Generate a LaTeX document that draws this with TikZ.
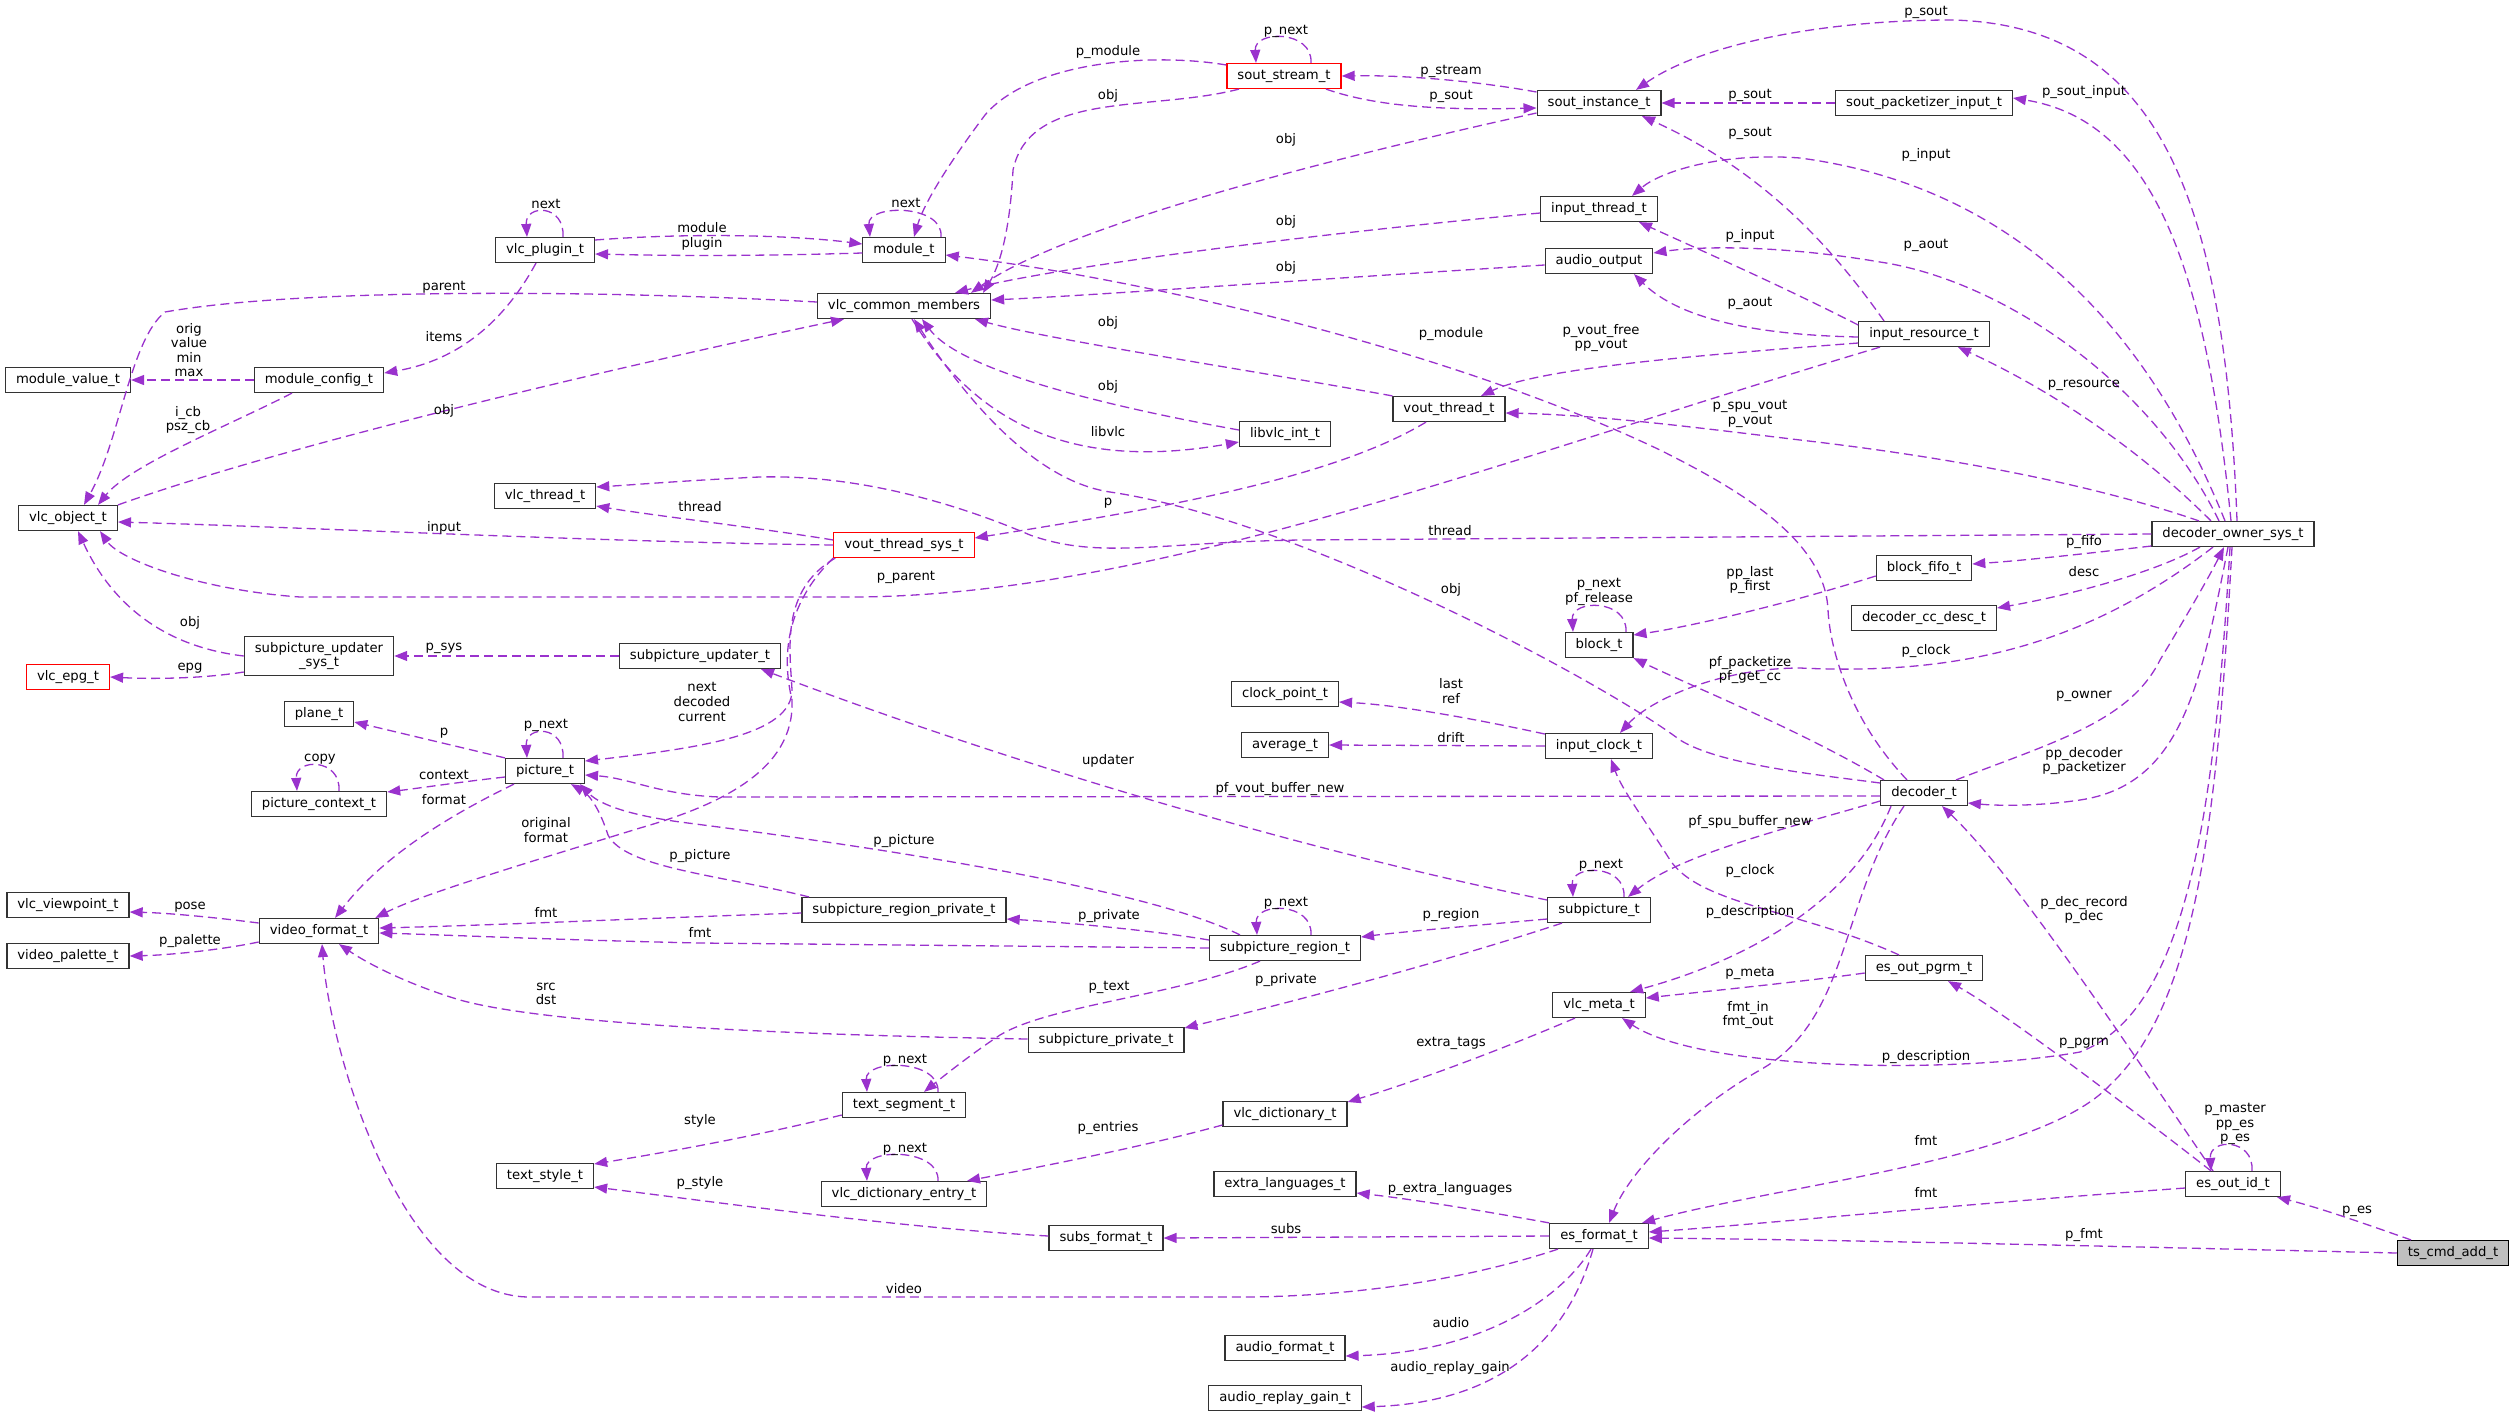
\documentclass[tikz,border=0pt]{standalone}
\usepackage{fontspec}
\setmainfont{DejaVu Sans}
\usetikzlibrary{arrows.meta}
\definecolor{orchid}{HTML}{9A32CD}
\definecolor{grey75}{HTML}{BFBFBF}

\begin{document}
\begin{tikzpicture}[x=1pt, y=-1pt,
  font=\fontsize{13.2}{14.6}\selectfont,
  box/.style={draw=black!80, line width=1.2pt, fill=white, inner xsep=10.5pt, inner ysep=3pt, minimum height=25pt},
  cls/.style={box, text height=9.5pt, text depth=3pt},
  trunc/.style={cls, draw=red},
  link/.style={draw=orchid, line width=1.3pt, dash pattern=on 9pt off 5pt, -{Triangle[length=13pt,width=10pt]}},
  lbl/.style={inner sep=0pt, align=center}]

  \useasboundingbox (0,0) rectangle (2515,1417);

  % Classes
  \node[cls] (plugin) at (545,250) {vlc\_plugin\_t};
  \node[cls] (modval) at (68,380) {module\_value\_t};
  \node[cls] (modcfg) at (319,380) {module\_config\_t};
  \node[cls] (module) at (904,250) {module\_t};
  \node[cls] (vcm) at (904,306) {vlc\_common\_members};
  \node[trunc] (sstream) at (1284,76) {sout\_stream\_t};
  \node[cls] (sinst) at (1599,103) {sout\_instance\_t};
  \node[cls] (spkt) at (1924,103) {sout\_packetizer\_input\_t};
  \node[cls] (ithread) at (1599,209) {input\_thread\_t};
  \node[cls] (aout) at (1599,261) {audio\_output};
  \node[cls] (ires) at (1924,334) {input\_resource\_t};
  \node[cls] (vthread) at (1449,409) {vout\_thread\_t};
  \node[cls] (libvlc) at (1285,434) {libvlc\_int\_t};
  \node[cls] (vobj) at (68,518) {vlc\_object\_t};
  \node[cls] (vlthread) at (545,496) {vlc\_thread\_t};
  \node[trunc] (vtsys) at (904,545) {vout\_thread\_sys\_t};
  \node[box, align=center, inner ysep=6pt] (supsys) at (319,656) {subpicture\_updater\\\_sys\_t};
  \node[trunc] (epg) at (68,677) {vlc\_epg\_t};
  \node[cls] (supdt) at (700,656) {subpicture\_updater\_t};
  \node[cls] (plane) at (319,714) {plane\_t};
  \node[cls] (pic) at (545,771) {picture\_t};
  \node[cls] (picctx) at (319,804) {picture\_context\_t};
  \node[cls] (viewpt) at (68,905) {vlc\_viewpoint\_t};
  \node[cls] (vfmt) at (319,931) {video\_format\_t};
  \node[cls] (palette) at (68,956) {video\_palette\_t};
  \node[cls] (srpriv) at (904,910) {subpicture\_region\_private\_t};
  \node[cls] (sregion) at (1285,948) {subpicture\_region\_t};
  \node[cls] (subpic) at (1599,910) {subpicture\_t};
  \node[cls] (meta) at (1599,1005) {vlc\_meta\_t};
  \node[cls] (pgrm) at (1924,968) {es\_out\_pgrm\_t};
  \node[cls] (spriv) at (1106,1040) {subpicture\_private\_t};
  \node[cls] (tseg) at (904,1105) {text\_segment\_t};
  \node[cls] (dict) at (1285,1114) {vlc\_dictionary\_t};
  \node[cls] (tstyle) at (545,1176) {text\_style\_t};
  \node[cls] (dentry) at (904,1194) {vlc\_dictionary\_entry\_t};
  \node[cls] (xlang) at (1285,1184) {extra\_languages\_t};
  \node[cls] (subsfmt) at (1106,1238) {subs\_format\_t};
  \node[cls] (esfmt) at (1599,1236) {es\_format\_t};
  \node[cls] (afmt) at (1285,1348) {audio\_format\_t};
  \node[cls] (rgain) at (1285,1398) {audio\_replay\_gain\_t};
  \node[cls] (dos) at (2233,534) {decoder\_owner\_sys\_t};
  \node[cls] (bfifo) at (1924,568) {block\_fifo\_t};
  \node[cls] (ccdesc) at (1924,618) {decoder\_cc\_desc\_t};
  \node[cls] (block) at (1599,645) {block\_t};
  \node[cls] (clkpt) at (1285,694) {clock\_point\_t};
  \node[cls] (avg) at (1285,745) {average\_t};
  \node[cls] (iclock) at (1599,746) {input\_clock\_t};
  \node[cls] (decoder) at (1924,793) {decoder\_t};
  \node[cls] (esid) at (2233,1184) {es\_out\_id\_t};
  \node[cls, fill=grey75, draw=black] (tscmd) at (2453,1253) {ts\_cmd\_add\_t};

  % Self references
  \draw[link] ([xshift=18pt]plugin.north) .. controls ([xshift=20pt,yshift=33pt]plugin.north) and ([xshift=-20pt,yshift=33pt]plugin.north) .. ([xshift=-18pt]plugin.north);
  \draw[link] ([xshift=37pt]module.north) .. controls ([xshift=40pt,yshift=33pt]module.north) and ([xshift=-37pt,yshift=33pt]module.north) .. ([xshift=-34pt]module.north);
  \draw[link] ([xshift=27pt]sstream.north) .. controls ([xshift=29pt,yshift=33pt]sstream.north) and ([xshift=-30pt,yshift=33pt]sstream.north) .. ([xshift=-28pt]sstream.north);
  \draw[link] ([xshift=18pt]pic.north) .. controls ([xshift=20pt,yshift=33pt]pic.north) and ([xshift=-20pt,yshift=33pt]pic.north) .. ([xshift=-18pt]pic.north);
  \draw[link] ([xshift=20pt]picctx.north) .. controls ([xshift=22pt,yshift=33pt]picctx.north) and ([xshift=-24pt,yshift=33pt]picctx.north) .. ([xshift=-22pt]picctx.north);
  \draw[link] ([xshift=27pt]block.north) .. controls ([xshift=29pt,yshift=33pt]block.north) and ([xshift=-28pt,yshift=33pt]block.north) .. ([xshift=-26pt]block.north);
  \draw[link] ([xshift=25pt]subpic.north) .. controls ([xshift=27pt,yshift=33pt]subpic.north) and ([xshift=-28pt,yshift=33pt]subpic.north) .. ([xshift=-26pt]subpic.north);
  \draw[link] ([xshift=26pt]sregion.north) .. controls ([xshift=28pt,yshift=33pt]sregion.north) and ([xshift=-30pt,yshift=33pt]sregion.north) .. ([xshift=-28pt]sregion.north);
  \draw[link] ([xshift=34pt]tseg.north) .. controls ([xshift=36pt,yshift=33pt]tseg.north) and ([xshift=-39pt,yshift=33pt]tseg.north) .. ([xshift=-37pt]tseg.north);
  \draw[link] ([xshift=34pt]dentry.north) .. controls ([xshift=36pt,yshift=33pt]dentry.north) and ([xshift=-39pt,yshift=33pt]dentry.north) .. ([xshift=-37pt]dentry.north);
  \draw[link] ([xshift=19pt]esid.north) .. controls ([xshift=21pt,yshift=33pt]esid.north) and ([xshift=-24pt,yshift=33pt]esid.north) .. ([xshift=-22pt]esid.north);

  % Module side
  \draw[link] ([yshift=10pt]plugin.east) .. controls (700,232) and (800,236) .. ([yshift=6pt]module.west);
  \draw[link] ([yshift=-3pt]module.west) .. controls (760,256) and (680,256) .. ([yshift=-4pt]plugin.east);
  \draw[link] ([xshift=-9pt]plugin.south) .. controls (505,320) and (460,360) .. ([yshift=7pt]modcfg.east);
  \draw[link] (modcfg.west) -- (modval.east);
  \draw[link] ([xshift=-27pt]modcfg.south) .. controls (230,425) and (130,465) .. ([xshift=30pt]vobj.north);
  \draw[link] ([yshift=4pt]vcm.west) .. controls (600,290) and (300,288) .. (165,312) .. controls (130,340) and (120,440) .. ([xshift=16pt]vobj.north);
  \draw[link] (vobj.north east) .. controls (300,440) and (650,360) .. ([xshift=-60pt]vcm.south);

  % Stream output
  \draw[link] ([yshift=11pt]sstream.west) .. controls (1150,52) and (1030,62) .. (985,115) .. controls (955,155) and (925,200) .. ([xshift=10pt]module.north);
  \draw[link] ([xshift=-45pt]sstream.south) .. controls (1150,112) and (1030,90) .. (1013,170) .. controls (1010,230) and (1000,265) .. ([xshift=79pt]vcm.north);
  \draw[link] ([yshift=11pt]sinst.west) .. controls (1470,80) and (1400,75) .. (sstream.east);
  \draw[link] ([xshift=42pt]sstream.south) .. controls (1380,108) and (1450,110) .. ([yshift=-5pt]sinst.west);
  \draw[link] ([yshift=-10pt]sinst.west) .. controls (1300,165) and (1060,230) .. ([xshift=67pt]vcm.north);
  \draw[link] (spkt.west) -- (sinst.east);
  \draw[link] ([yshift=-4pt]ithread.west) .. controls (1300,235) and (1050,268) .. ([xshift=51pt]vcm.north);
  \draw[link] ([yshift=-4pt]aout.west) .. controls (1300,280) and (1100,295) .. ([yshift=6pt]vcm.east);

  % Owner of the decoder
  \draw[link] ([xshift=4pt]dos.north) .. controls (2225,200) and (2160,25) .. (1952,20) .. controls (1820,20) and (1700,45) .. ([xshift=37pt]sinst.north);
  \draw[link] ([xshift=-2pt]dos.north) .. controls (2205,260) and (2150,120) .. ([yshift=5pt]spkt.east);
  \draw[link] ([xshift=-8pt]dos.north) .. controls (2160,360) and (2040,190) .. (1800,158) .. controls (1720,152) and (1660,172) .. ([xshift=33pt]ithread.north);
  \draw[link] ([xshift=-14pt]dos.north) .. controls (2150,380) and (2000,280) .. (1880,262) .. controls (1780,245) and (1700,246) .. ([yshift=8pt]aout.east);
  \draw[link] ([xshift=-22pt]dos.north) .. controls (2130,440) and (2040,385) .. ([xshift=34pt]ires.south);
  \draw[link] ([xshift=-34pt]dos.north) .. controls (2080,480) and (1930,455) .. (1800,440) .. controls (1700,428) and (1600,415) .. ([yshift=-4pt]vthread.east);
  \draw[link] (dos.west) -- (1300,540) .. controls (1160,542) and (1100,560) .. (1030,535) .. controls (960,505) and (850,470) .. (740,478) .. controls (680,481) and (630,485) .. ([yshift=9pt]vlthread.east);
  \draw[link] ([yshift=-12pt]dos.west) .. controls (2100,552) and (2030,560) .. ([yshift=4pt]bfifo.east);
  \draw[link] ([xshift=-33pt]dos.south) .. controls (2150,575) and (2060,597) .. ([yshift=10pt]ccdesc.east);
  \draw[link] ([xshift=-20pt]dos.south) .. controls (2080,650) and (1950,675) .. (1800,668) .. controls (1720,668) and (1650,700) .. ([xshift=21pt]iclock.north);
  \draw[link] ([xshift=32pt]decoder.north) .. controls (2060,740) and (2130,720) .. (2160,660) .. controls (2190,610) and (2210,575) .. ([xshift=-9pt]dos.south);
  \draw[link] ([xshift=-5pt]dos.south) .. controls (2200,690) and (2180,785) .. (2080,800) .. controls (2040,806) and (2000,806) .. ([yshift=-10pt]decoder.east);
  \draw[link] ([xshift=-3pt]dos.south) .. controls (2215,800) and (2190,1010) .. (2080,1052) .. controls (1950,1075) and (1700,1070) .. ([xshift=23pt]meta.south);
  \draw[link] ([xshift=-1pt]dos.south) .. controls (2218,800) and (2200,1000) .. (2110,1085) .. controls (2040,1160) and (1780,1185) .. ([xshift=43pt]esfmt.north);

  % Input resource
  \draw[link] ([xshift=-40pt]ires.north) .. controls (1820,230) and (1750,165) .. ([xshift=43pt]sinst.south);
  \draw[link] ([yshift=9pt]ires.west) .. controls (1780,285) and (1700,250) .. ([xshift=40pt]ithread.south);
  \draw[link] ([yshift=-3pt]ires.west) .. controls (1760,335) and (1680,320) .. ([xshift=35pt]aout.south);
  \draw[link] ([yshift=-9pt]ires.west) .. controls (1700,355) and (1540,368) .. ([xshift=32pt]vthread.north);
  \draw[link] ([xshift=-44pt]ires.south) .. controls (1500,460) and (1150,597) .. (850,597) -- (300,597) .. controls (200,590) and (120,560) .. ([xshift=32pt]vobj.south);

  % Video output
  \draw[link] (vthread.north west) .. controls (1250,370) and (1050,340) .. ([xshift=71pt]vcm.south);
  \draw[link] ([yshift=4pt]libvlc.west) .. controls (1100,405) and (960,370) .. ([xshift=18pt]vcm.south);
  \draw[link] ([xshift=8pt]vcm.south) .. controls (980,430) and (1080,470) .. ([yshift=-8pt]libvlc.west);
  \draw[link] ([xshift=-23pt]vthread.south) .. controls (1330,480) and (1150,510) .. ([yshift=7pt]vtsys.east);
  \draw[link] ([yshift=5pt]vtsys.west) .. controls (760,528) and (650,515) .. ([yshift=-10pt]vlthread.east);
  \draw[link] (vtsys.west) .. controls (600,542) and (300,527) .. ([yshift=-4pt]vobj.east);
  \draw[link] ([xshift=2pt]vtsys.south west) .. controls (780,590) and (790,650) .. (792,690) .. controls (792,735) and (700,748) .. ([yshift=10pt]pic.east);
  \draw[link] (vtsys.south west) .. controls (790,600) and (780,650) .. (792,700) .. controls (795,770) and (720,805) .. (640,828) .. controls (520,865) and (420,895) .. ([xshift=-4pt]vfmt.north east);

  % Decoder
  \draw[link] ([yshift=10pt]decoder.west) .. controls (1820,775) and (1720,765) .. (1680,740) .. controls (1600,680) and (1300,520) .. (1110,492) .. controls (1030,480) and (960,390) .. ([xshift=10pt]vcm.south);
  \draw[link] ([xshift=-17pt]decoder.north) .. controls (1850,720) and (1830,650) .. (1828,610) .. controls (1825,540) and (1740,490) .. (1660,450) .. controls (1450,350) and (1150,280) .. ([yshift=-5pt]module.east);
  \draw[link] ([yshift=-3pt]decoder.west) -- (720,797) .. controls (660,795) and (630,778) .. ([yshift=-4pt]pic.east);
  \draw[link] ([xshift=-40pt]decoder.north) .. controls (1800,730) and (1700,690) .. (block.south east);
  \draw[link] ([yshift=-8pt]decoder.west) .. controls (1780,830) and (1680,855) .. ([xshift=29pt]subpic.north);
  \draw[link] ([xshift=-33pt]decoder.south) .. controls (1850,910) and (1730,965) .. ([xshift=31pt]meta.north);
  \draw[link] ([xshift=-20pt]decoder.south) .. controls (1840,900) and (1850,1020) .. (1760,1070) .. controls (1690,1110) and (1630,1170) .. ([xshift=10pt]esfmt.north);
  \draw[link] ([yshift=-8pt]bfifo.west) .. controls (1800,600) and (1700,625) .. ([yshift=10pt]block.east);
  \draw[link] ([yshift=12pt]iclock.west) .. controls (1480,720) and (1400,705) .. ([yshift=-8pt]clkpt.east);
  \draw[link] (iclock.west) -- (avg.east);

  % Pictures and subpictures
  \draw[link] (supsys.west) .. controls (150,645) and (105,590) .. ([xshift=10pt]vobj.south);
  \draw[link] ([yshift=-16pt]supsys.west) .. controls (200,679) and (150,679) .. (epg.east);
  \draw[link] (supdt.west) -- (supsys.east);
  \draw[link] (pic.north west) -- ([yshift=-8pt]plane.east);
  \draw[link] ([yshift=-6pt]pic.west) .. controls (460,782) and (420,788) .. ([yshift=12pt]picctx.east);
  \draw[link] ([xshift=-31pt]pic.south) .. controls (440,820) and (380,860) .. ([xshift=16pt]vfmt.north);
  \draw[link] ([yshift=8pt]vfmt.west) .. controls (220,918) and (170,913) .. ([yshift=-7pt]viewpt.east);
  \draw[link] ([yshift=-11pt]vfmt.west) .. controls (220,950) and (170,955) .. (palette.east);
  \draw[link] ([xshift=-45pt]sregion.north) .. controls (1150,890) and (900,850) .. (680,822) .. controls (630,815) and (600,805) .. ([xshift=35pt]pic.south);
  \draw[link] ([xshift=-95pt]srpriv.north) .. controls (720,875) and (625,868) .. (608,835) .. controls (600,810) and (590,795) .. ([xshift=26pt]pic.south);
  \draw[link] ([yshift=-3pt]srpriv.west) .. controls (650,918) and (500,925) .. ([yshift=3pt]vfmt.east);
  \draw[link] (sregion.west) -- (700,943) .. controls (560,940) and (450,935) .. ([yshift=-2pt]vfmt.east);
  \draw[link] ([yshift=8pt]sregion.west) .. controls (1150,930) and (1060,922) .. ([yshift=-9pt]srpriv.east);
  \draw[link] ([yshift=-9pt]subpic.west) .. controls (1480,925) and (1400,932) .. ([yshift=11pt]sregion.east);
  \draw[link] ([yshift=10pt]subpic.west) .. controls (1300,850) and (1000,760) .. ([xshift=61pt]supdt.south);
  \draw[link] ([xshift=-37pt]subpic.south) .. controls (1450,960) and (1300,1000) .. ([yshift=12pt]spriv.east);
  \draw[link] ([yshift=1pt]spriv.west) .. controls (800,1035) and (550,1025) .. (460,1000) .. controls (410,985) and (370,965) .. ([xshift=20pt]vfmt.south);
  \draw[link] ([xshift=-25pt]sregion.south) .. controls (1180,995) and (1050,1005) .. (1000,1035) .. controls (970,1055) and (945,1075) .. ([xshift=20pt]tseg.north);
  \draw[link] ([yshift=-10pt]tseg.west) .. controls (760,1135) and (680,1150) .. ([yshift=12pt]tstyle.east);
  \draw[link] ([yshift=-11pt]dict.west) .. controls (1150,1145) and (1050,1165) .. ([xshift=63pt]dentry.north);
  \draw[link] ([yshift=2pt]subsfmt.west) .. controls (900,1228) and (700,1200) .. ([yshift=-11pt]tstyle.east);

  % Elementary stream format
  \draw[link] (esfmt.west) -- (subsfmt.east);
  \draw[link] ([xshift=-41pt]esfmt.south) .. controls (1450,1285) and (1330,1297) .. (1240,1297) -- (530,1297) .. controls (400,1297) and (330,1050) .. ([xshift=3pt]vfmt.south);
  \draw[link] (esfmt.north west) .. controls (1500,1214) and (1420,1200) .. ([yshift=-9pt]xlang.east);
  \draw[link] ([xshift=-8pt]esfmt.south) .. controls (1560,1300) and (1480,1352) .. ([yshift=-8pt]afmt.east);
  \draw[link] ([xshift=-6pt]esfmt.south) .. controls (1570,1330) and (1510,1402) .. ([yshift=-9pt]rgain.east);
  \draw[link] ([xshift=-24pt]meta.south) .. controls (1500,1050) and (1420,1080) .. ([yshift=12pt]dict.east);
  \draw[link] ([yshift=-5pt]pgrm.west) .. controls (1800,982) and (1700,992) .. ([yshift=7pt]meta.east);
  \draw[link] ([xshift=-25pt]pgrm.north) .. controls (1800,910) and (1700,905) .. (1670,860) .. controls (1645,820) and (1622,790) .. ([xshift=12pt]iclock.south);

  % ES output ids
  \draw[link] ([yshift=-4pt]esid.west) .. controls (1950,1205) and (1750,1225) .. ([yshift=4pt]esfmt.east);
  \draw[link] ([xshift=-20pt]esid.north) .. controls (2150,1080) and (2020,880) .. ([xshift=18pt]decoder.south);
  \draw[link] ([xshift=-22pt]esid.north) .. controls (2120,1100) and (2000,1010) .. ([xshift=24pt]pgrm.south);
  \draw[link] (tscmd.west) .. controls (2100,1246) and (1850,1240) .. ([yshift=-2pt]esfmt.east);
  \draw[link] ([xshift=-42pt]tscmd.north) .. controls (2360,1222) and (2320,1208) .. ([xshift=44pt]esid.south);

  % Member names
  \foreach \lx/\ly/\lt [count=\i] in {
    1926/12/p\_sout, 1108/52/p\_module, 1286/31/p\_next, 1451/71/p\_stream,
    1451/96/p\_sout, 1750/95/p\_sout, 2084/92/p\_sout\_input, 1108/96/obj,
    1286/140/obj, 1750/133/p\_sout, 1926/155/p\_input, 702/228/module,
    702/244/plugin, 546/204/next, 906/203/next, 1286/222/obj,
    1750/236/p\_input, 1926/245/p\_aout, 1286/268/obj, 444/287/parent,
    1750/303/p\_aout, 189/350/orig\\value\\min\\max, 444/337/items,
    1601/338/p\_vout\_free\\pp\_vout, 1451/334/p\_module, 2084/385/p\_resource,
    1108/323/obj, 1108/387/obj, 1108/432/libvlc, 444/411/obj,
    188/420/i\_cb\\psz\_cb, 1750/414/p\_spu\_vout\\p\_vout, 1108/503/p,
    700/507/thread, 444/528/input, 1450/531/thread, 2084/542/p\_fifo,
    2084/572/desc, 906/577/p\_parent, 1750/580/pp\_last\\p\_first,
    1599/592/p\_next\\pf\_release, 1451/590/obj, 190/623/obj, 190/668/epg,
    444/648/p\_sys, 1926/651/p\_clock, 1750/670/pf\_packetize\\pf\_get\_cc,
    1451/691/last\\ref, 702/702/next\\decoded\\current, 2084/696/p\_owner,
    1451/738/drift, 444/733/p, 546/725/p\_next, 320/759/copy,
    444/775/context, 444/800/format, 1108/761/updater,
    1280/789/pf\_vout\_buffer\_new, 2084/761/pp\_decoder\\p\_packetizer,
    546/830/original\\format, 1750/822/pf\_spu\_buffer\_new, 904/841/p\_picture,
    700/856/p\_picture, 1750/871/p\_clock, 1601/865/p\_next, 1286/903/p\_next,
    2084/910/p\_dec\_record\\p\_dec, 1451/915/p\_region, 1750/912/p\_description,
    546/912/fmt, 190/907/pose, 1109/916/p\_private, 700/932/fmt,
    190/941/p\_palette, 1750/973/p\_meta, 1286/980/p\_private,
    1748/1015/fmt\_in\\fmt\_out, 1109/987/p\_text, 546/994/src\\dst,
    1451/1043/extra\_tags, 1926/1057/p\_description, 2084/1043/p\_pgrm,
    905/1060/p\_next, 700/1121/style, 1108/1128/p\_entries, 905/1149/p\_next,
    2235/1124/p\_master\\pp\_es\\p\_es, 1926/1140/fmt,
    1450/1189/p\_extra\_languages, 700/1183/p\_style, 1926/1192/fmt,
    1286/1229/subs, 2357/1211/p\_es, 2084/1235/p\_fmt, 904/1289/video,
    1451/1323/audio, 1450/1368/audio\_replay\_gain}
    \node[lbl] (lab\i) at (\lx,\ly) {\lt};
\end{tikzpicture}
\end{document}
